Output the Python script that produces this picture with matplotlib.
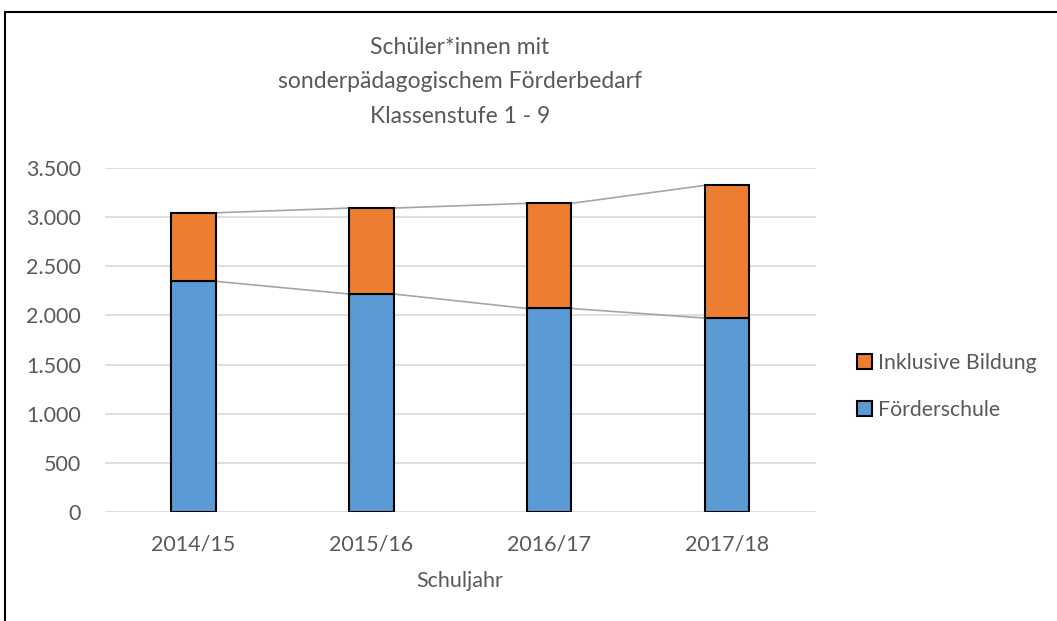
import matplotlib.pyplot as plt
import matplotlib.patches as patches
import numpy as np

# Daten
schuljahre = ['2014/15', '2015/16', '2016/17', '2017/18']
foerderschule = [2347, 2218, 2071, 1973]
inklusive = [697, 874, 1069, 1350]

plt.rcParams['font.family'] = ['Lato', 'DejaVu Sans']

fig = plt.figure(figsize=(10.57, 6.21), dpi=100)
ax = fig.add_axes([0.0989, 0.1755, 0.673, 0.554])

x = np.arange(len(schuljahre))
breite = 0.25
blau = '#5B9BD5'
orange = '#ED7D31'

b1 = ax.bar(x, foerderschule, breite, color=blau, edgecolor='black', linewidth=1.5,
            label='Förderschule', zorder=3)
unten = np.array(foerderschule)
b2 = ax.bar(x, inklusive, breite, bottom=unten, color=orange, edgecolor='black',
            linewidth=1.5, label='Inklusive Bildung', zorder=3)

# Verbindungslinien (Reihenlinien wie in Excel)
summe = unten + np.array(inklusive)
for werte in (unten, summe):
    for i in range(len(x) - 1):
        ax.plot([x[i] + breite / 2, x[i + 1] - breite / 2], [werte[i], werte[i + 1]],
                color='#A5A5A5', linewidth=1.2, zorder=2)

ax.set_xlim(-0.5, 3.5)
ax.set_ylim(0, 3500)
ax.set_yticks(np.arange(0, 3501, 500))
ax.set_yticklabels([f'{v:,}'.replace(',', '.') for v in range(0, 3501, 500)])
ax.set_xticks(x)
ax.set_xticklabels(schuljahre)
ax.grid(axis='y', color='#D9D9D9', linewidth=1.2, zorder=0)
for s in ax.spines.values():
    s.set_visible(False)
ax.tick_params(length=0, labelsize=15.5, colors='#595959', pad=16)
ax.tick_params(axis='y', pad=17)
ax.set_xlabel('Schuljahr', fontsize=15.5, color='#595959', labelpad=12)

fig.text(0.435, 0.868, 'Schüler*innen mit\nsonderpädagogischem Förderbedarf\nKlassenstufe 1 - 9',
         ha='center', va='center', fontsize=16.5, color='#595959', linespacing=1.8)

ax.legend(handles=[b2, b1], loc='center left', bbox_to_anchor=(1.031, 0.365), frameon=False,
          fontsize=15.3, labelcolor='#595959', handlelength=0.72, handleheight=0.72,
          handletextpad=0.25, labelspacing=1.25)

# Rahmen
fig.patches.append(patches.Rectangle((5 / 1057, -0.1), 1.2, 1.1 - 12 / 621,
                                     transform=fig.transFigure, fill=False,
                                     edgecolor='black', linewidth=1.5))

fig.savefig('out.png', dpi=100)
